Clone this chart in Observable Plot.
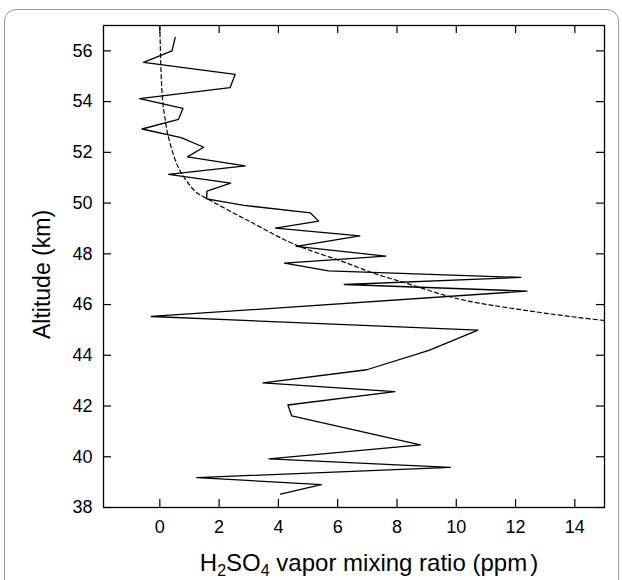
<!DOCTYPE html>
<html><head><meta charset="utf-8">
<script src="https://cdn.jsdelivr.net/npm/d3@7"></script>
<script src="https://cdn.jsdelivr.net/npm/@observablehq/plot@0.6"></script>
<style>
body{margin:0;background:#fff;}
#wrap{position:relative;width:622px;height:580px;overflow:hidden;font-family:"Liberation Sans",Arial,sans-serif;}
#border{position:absolute;left:4px;top:9px;width:613px;height:620px;border:1px solid #999;border-radius:12px;}
#chart{position:absolute;left:0;top:0;}
#xtitle{position:absolute;left:169px;width:400px;top:550px;text-align:center;font-size:24px;color:#000;line-height:26px;}
#xtitle sub{font-size:16px;vertical-align:-5px;line-height:0;}
</style></head>
<body><div id="wrap"><div id="border"></div><div id="chart"></div>
<div id="xtitle">H<sub>2</sub>SO<sub>4</sub> vapor mixing ratio (ppm<span style="margin-left:3px">)</span></div></div>
<script>
// measured H2SO4 vapor profile
const mixingRatio = [0.52,0.41,-0.55,2.54,2.37,-0.68,0.78,0.63,-0.60,0.72,1.48,0.93,2.88,0.30,2.39,1.59,1.58,2.84,5.08,5.36,3.90,6.75,4.60,7.62,4.21,5.69,12.18,6.22,12.38,-0.29,10.73,9.08,6.98,3.48,7.93,4.32,4.45,8.79,3.68,9.80,1.25,5.45,4.07];
const altitude    = [56.53,56.0,55.55,55.07,54.55,54.12,53.73,53.30,52.92,52.58,52.20,51.82,51.47,51.13,50.79,50.47,50.17,49.91,49.61,49.29,49.01,48.71,48.29,47.91,47.63,47.33,47.07,46.79,46.53,45.53,44.99,44.19,43.43,42.91,42.57,42.04,41.61,40.47,39.92,39.58,39.18,38.90,38.53];
// dashed saturation curve
const fitRatio    = [0.0,0.04,0.10,0.18,0.27,0.49,0.77,1.16,1.55,2.50,3.40,4.63,6.08,7.20,8.32,9.78,11.1,12.4,13.7,15.0,16.0];
const fitAltitude = [57.0,55.2,54.0,53.3,52.7,51.8,51.1,50.5,50.2,49.6,49.05,48.33,47.73,47.24,46.84,46.31,45.99,45.76,45.55,45.37,45.23];
const xTicks = [0,2,4,6,8,10,12,14];
const yTicks = [38,40,42,44,46,48,50,52,54,56];

const profile = mixingRatio.map((v,i)=>({x:v,y:altitude[i]}));
const fit = fitRatio.map((v,i)=>({x:v,y:fitAltitude[i]}));

const W = 622, H = 580, mL = 103, mR = 18, mT = 25, mB = 73;
const pw = W - mL - mR, ph = H - mT - mB;
const tk = 8;

const chart = Plot.plot({
  width: W, height: H,
  marginLeft: mL, marginRight: mR, marginTop: mT, marginBottom: mB,
  style: {fontFamily: '"Liberation Sans", Arial, sans-serif', fontSize: "18px", color: "#000", background: "transparent"},
  x: {domain: [-1.9, 15]},
  y: {domain: [38, 57]},
  marks: [
    Plot.line(fit, {x: "x", y: "y", curve: "natural", stroke: "#000", strokeWidth: 1.2, strokeDasharray: "4,3", clip: true}),
    Plot.line(profile, {x: "x", y: "y", stroke: "#000", strokeWidth: 1.3, clip: true}),
    Plot.tickY(yTicks, {y: d => d, insetRight: pw - tk, stroke: "#000", strokeWidth: 1.2}),
    Plot.tickY(yTicks, {y: d => d, insetLeft: pw - tk, stroke: "#000", strokeWidth: 1.2}),
    Plot.tickX(xTicks, {x: d => d, insetTop: ph - tk, stroke: "#000", strokeWidth: 1.2}),
    Plot.tickX(xTicks, {x: d => d, insetBottom: ph - tk, stroke: "#000", strokeWidth: 1.2}),
    Plot.axisY(yTicks, {anchor: "left", tickSize: 0, tickPadding: 11, label: null, fontSize: 18}),
    Plot.axisX(xTicks, {anchor: "bottom", tickSize: 0, tickPadding: 13, label: null, fontSize: 18}),
    Plot.text(["Altitude (km)"], {frameAnchor: "left", text: d => d, rotate: -90, textAnchor: "middle", lineAnchor: "middle", dx: -61, dy: 8, fontSize: 23, fill: "#000"}),
    Plot.frame({stroke: "#000", strokeWidth: 1.3})
  ]
});
document.getElementById("chart").appendChild(chart);
</script>
</body></html>
